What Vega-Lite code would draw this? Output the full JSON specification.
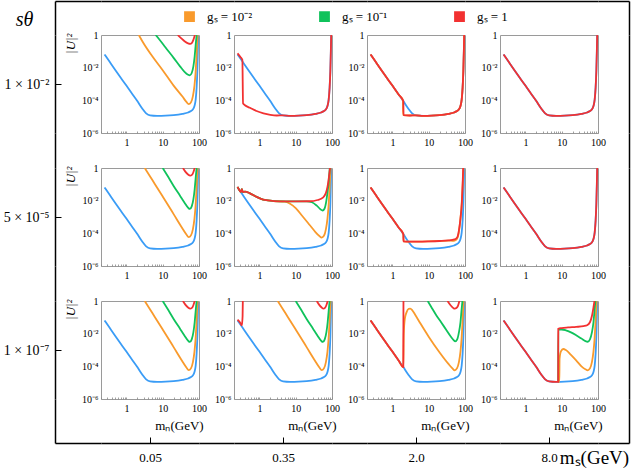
{
  "$schema": "https://vega.github.io/schema/vega-lite/v6.json",
  "background": "white",
  "padding": {"left": 3, "top": 1, "right": 3, "bottom": 3},
  "config": {
    "font": "Liberation Serif",
    "view": {"stroke": null},
    "axis": {"labelFont": "Liberation Serif", "titleFont": "Liberation Serif", "labelColor": "black", "titleColor": "black", "grid": false, "titleFontWeight": "normal"},
    "axisDiscrete": {"domainColor": "black", "domainWidth": 1.5, "labels": false, "ticks": false, "tickColor": "black", "tickWidth": 1, "labelAngle": 0},
    "axisQuantitative": {"domain": false, "tickColor": "#888888", "tickWidth": 0.8, "labelFontSize": 10, "labelFlush": false, "labelOverlap": false, "labelBound": false},
    "legend": {"direction": "horizontal", "padding": 0, "symbolType": "M-1,-1H1V1H-1Z M-0.8,-0.8H0.8V0.8H-0.8Z M-0.6,-0.6H0.6V0.6H-0.6Z M-0.4,-0.4H0.4V0.4H-0.4Z M-0.2,-0.2H0.2V0.2H-0.2Z M-0.05,-0.05H0.05V0.05H-0.05Z", "symbolSize": 81, "symbolStrokeWidth": 1.5, "labelFontSize": 13, "labelOffset": 11, "columnPadding": 63, "gridAlign": "all", "labelFont": "Liberation Serif", "labelColor": "black"},
    "line": {"strokeWidth": 1.8},
    "concat": {"spacing": 0}
  },
  "data": {"values": [{"k": "a"}]},
  "datasets": {
    "curves": [
      {"r":1,"c":1,"g":"b","m":0.25,"u":0.065},{"r":1,"c":1,"g":"b","m":0.35,"u":0.022},{"r":1,"c":1,"g":"b","m":0.5,"u":0.007},{"r":1,"c":1,"g":"b","m":0.7,"u":0.0024},{"r":1,"c":1,"g":"b","m":1,"u":0.0008},{"r":1,"c":1,"g":"b","m":1.5,"u":2.2e-4},{"r":1,"c":1,"g":"b","m":2,"u":9e-5},{"r":1,"c":1,"g":"b","m":2.7,"u":3.3e-5},{"r":1,"c":1,"g":"b","m":3.5,"u":1.6e-5},{"r":1,"c":1,"g":"b","m":4.5,"u":1.2e-5},{"r":1,"c":1,"g":"b","m":7,"u":1.12e-5},{"r":1,"c":1,"g":"b","m":12,"u":1.15e-5},{"r":1,"c":1,"g":"b","m":20,"u":1.25e-5},{"r":1,"c":1,"g":"b","m":35,"u":1.5e-5},{"r":1,"c":1,"g":"b","m":50,"u":1.8e-5},{"r":1,"c":1,"g":"b","m":60,"u":2.2e-5},{"r":1,"c":1,"g":"b","m":68,"u":2.8e-5},{"r":1,"c":1,"g":"b","m":75,"u":4.5e-5},{"r":1,"c":1,"g":"b","m":81,"u":1.1e-4},{"r":1,"c":1,"g":"b","m":86,"u":6e-4},{"r":1,"c":1,"g":"b","m":90,"u":6e-3},{"r":1,"c":1,"g":"b","m":93,"u":0.1},{"r":1,"c":1,"g":"b","m":95,"u":1},
      {"r":1,"c":1,"g":"o","m":2.2,"u":1},{"r":1,"c":1,"g":"o","m":3,"u":0.3},{"r":1,"c":1,"g":"o","m":5,"u":0.055},{"r":1,"c":1,"g":"o","m":10,"u":0.007},{"r":1,"c":1,"g":"o","m":20,"u":0.0008},{"r":1,"c":1,"g":"o","m":35,"u":1.7e-4},{"r":1,"c":1,"g":"o","m":45,"u":8e-5},{"r":1,"c":1,"g":"o","m":52,"u":5.8e-5},{"r":1,"c":1,"g":"o","m":60,"u":7.5e-5},{"r":1,"c":1,"g":"o","m":68,"u":1.8e-4},{"r":1,"c":1,"g":"o","m":75,"u":8e-4},{"r":1,"c":1,"g":"o","m":80,"u":0.004},{"r":1,"c":1,"g":"o","m":85,"u":0.04},{"r":1,"c":1,"g":"o","m":89,"u":0.3},{"r":1,"c":1,"g":"o","m":92,"u":1},
      {"r":1,"c":1,"g":"g","m":6.4,"u":1},{"r":1,"c":1,"g":"g","m":8,"u":0.55},{"r":1,"c":1,"g":"g","m":12,"u":0.17},{"r":1,"c":1,"g":"g","m":20,"u":0.04},{"r":1,"c":1,"g":"g","m":30,"u":0.012},{"r":1,"c":1,"g":"g","m":40,"u":0.0055},{"r":1,"c":1,"g":"g","m":50,"u":0.0037},{"r":1,"c":1,"g":"g","m":56,"u":0.0034},{"r":1,"c":1,"g":"g","m":63,"u":0.0047},{"r":1,"c":1,"g":"g","m":70,"u":0.012},{"r":1,"c":1,"g":"g","m":76,"u":0.05},{"r":1,"c":1,"g":"g","m":81,"u":0.25},{"r":1,"c":1,"g":"g","m":86,"u":1},
      {"r":1,"c":1,"g":"r","m":26,"u":1},{"r":1,"c":1,"g":"r","m":32,"u":0.65},{"r":1,"c":1,"g":"r","m":40,"u":0.42},{"r":1,"c":1,"g":"r","m":50,"u":0.31},{"r":1,"c":1,"g":"r","m":57,"u":0.29},{"r":1,"c":1,"g":"r","m":64,"u":0.33},{"r":1,"c":1,"g":"r","m":70,"u":0.5},{"r":1,"c":1,"g":"r","m":77,"u":1},

      {"r":1,"c":2,"g":"b","m":0.25,"u":0.065},{"r":1,"c":2,"g":"b","m":0.35,"u":0.022},{"r":1,"c":2,"g":"b","m":0.5,"u":0.007},{"r":1,"c":2,"g":"b","m":0.7,"u":0.0024},{"r":1,"c":2,"g":"b","m":1,"u":0.0008},{"r":1,"c":2,"g":"b","m":1.5,"u":2.2e-4},{"r":1,"c":2,"g":"b","m":2,"u":9e-5},{"r":1,"c":2,"g":"b","m":2.7,"u":3.3e-5},{"r":1,"c":2,"g":"b","m":3.5,"u":1.6e-5},{"r":1,"c":2,"g":"b","m":4.5,"u":1.2e-5},{"r":1,"c":2,"g":"b","m":7,"u":1.12e-5},{"r":1,"c":2,"g":"b","m":12,"u":1.15e-5},{"r":1,"c":2,"g":"b","m":20,"u":1.25e-5},{"r":1,"c":2,"g":"b","m":35,"u":1.5e-5},{"r":1,"c":2,"g":"b","m":50,"u":1.8e-5},{"r":1,"c":2,"g":"b","m":60,"u":2.2e-5},{"r":1,"c":2,"g":"b","m":68,"u":2.8e-5},{"r":1,"c":2,"g":"b","m":75,"u":4.5e-5},{"r":1,"c":2,"g":"b","m":81,"u":1.1e-4},{"r":1,"c":2,"g":"b","m":86,"u":6e-4},{"r":1,"c":2,"g":"b","m":90,"u":6e-3},{"r":1,"c":2,"g":"b","m":93,"u":0.1},{"r":1,"c":2,"g":"b","m":95,"u":1},
      {"r":1,"c":2,"g":"r","m":0.25,"u":0.075},{"r":1,"c":2,"g":"r","m":0.3,"u":0.045},{"r":1,"c":2,"g":"r","m":0.34,"u":0.03},{"r":1,"c":2,"g":"r","m":0.355,"u":6.5e-5},{"r":1,"c":2,"g":"r","m":0.4,"u":5e-5},{"r":1,"c":2,"g":"r","m":0.55,"u":3.5e-5},{"r":1,"c":2,"g":"r","m":0.8,"u":2.3e-5},{"r":1,"c":2,"g":"r","m":1.3,"u":1.6e-5},{"r":1,"c":2,"g":"r","m":2,"u":1.3e-5},{"r":1,"c":2,"g":"r","m":3,"u":1.18e-5},{"r":1,"c":2,"g":"r","m":4.5,"u":1.2e-5},{"r":1,"c":2,"g":"r","m":7,"u":1.12e-5},{"r":1,"c":2,"g":"r","m":12,"u":1.15e-5},{"r":1,"c":2,"g":"r","m":20,"u":1.25e-5},{"r":1,"c":2,"g":"r","m":35,"u":1.5e-5},{"r":1,"c":2,"g":"r","m":50,"u":1.8e-5},{"r":1,"c":2,"g":"r","m":60,"u":2.2e-5},{"r":1,"c":2,"g":"r","m":68,"u":2.8e-5},{"r":1,"c":2,"g":"r","m":75,"u":4.5e-5},{"r":1,"c":2,"g":"r","m":81,"u":1.1e-4},{"r":1,"c":2,"g":"r","m":86,"u":6e-4},{"r":1,"c":2,"g":"r","m":90,"u":6e-3},{"r":1,"c":2,"g":"r","m":93,"u":0.1},{"r":1,"c":2,"g":"r","m":95,"u":1},

      {"r":1,"c":3,"g":"b","m":0.25,"u":0.065},{"r":1,"c":3,"g":"b","m":0.35,"u":0.022},{"r":1,"c":3,"g":"b","m":0.5,"u":0.007},{"r":1,"c":3,"g":"b","m":0.7,"u":0.0024},{"r":1,"c":3,"g":"b","m":1,"u":0.0008},{"r":1,"c":3,"g":"b","m":1.5,"u":2.2e-4},{"r":1,"c":3,"g":"b","m":2,"u":9e-5},{"r":1,"c":3,"g":"b","m":2.7,"u":3.3e-5},{"r":1,"c":3,"g":"b","m":3.5,"u":1.6e-5},{"r":1,"c":3,"g":"b","m":4.5,"u":1.2e-5},{"r":1,"c":3,"g":"b","m":7,"u":1.12e-5},{"r":1,"c":3,"g":"b","m":12,"u":1.15e-5},{"r":1,"c":3,"g":"b","m":20,"u":1.25e-5},{"r":1,"c":3,"g":"b","m":35,"u":1.5e-5},{"r":1,"c":3,"g":"b","m":50,"u":1.8e-5},{"r":1,"c":3,"g":"b","m":60,"u":2.2e-5},{"r":1,"c":3,"g":"b","m":68,"u":2.8e-5},{"r":1,"c":3,"g":"b","m":75,"u":4.5e-5},{"r":1,"c":3,"g":"b","m":81,"u":1.1e-4},{"r":1,"c":3,"g":"b","m":86,"u":6e-4},{"r":1,"c":3,"g":"b","m":90,"u":6e-3},{"r":1,"c":3,"g":"b","m":93,"u":0.1},{"r":1,"c":3,"g":"b","m":95,"u":1},
      {"r":1,"c":3,"g":"o","m":0.25,"u":0.065},{"r":1,"c":3,"g":"o","m":0.35,"u":0.022},{"r":1,"c":3,"g":"o","m":0.5,"u":0.007},{"r":1,"c":3,"g":"o","m":0.7,"u":0.0024},{"r":1,"c":3,"g":"o","m":1,"u":0.0008},{"r":1,"c":3,"g":"o","m":1.5,"u":2.2e-4},{"r":1,"c":3,"g":"o","m":1.95,"u":1e-4},{"r":1,"c":3,"g":"o","m":1.98,"u":1.25e-5},{"r":1,"c":3,"g":"o","m":3,"u":1.18e-5},{"r":1,"c":3,"g":"o","m":4.5,"u":1.2e-5},{"r":1,"c":3,"g":"o","m":7,"u":1.12e-5},{"r":1,"c":3,"g":"o","m":12,"u":1.15e-5},{"r":1,"c":3,"g":"o","m":20,"u":1.25e-5},{"r":1,"c":3,"g":"o","m":35,"u":1.5e-5},{"r":1,"c":3,"g":"o","m":50,"u":1.8e-5},{"r":1,"c":3,"g":"o","m":60,"u":2.2e-5},{"r":1,"c":3,"g":"o","m":68,"u":2.8e-5},{"r":1,"c":3,"g":"o","m":75,"u":4.5e-5},{"r":1,"c":3,"g":"o","m":81,"u":1.1e-4},{"r":1,"c":3,"g":"o","m":86,"u":6e-4},{"r":1,"c":3,"g":"o","m":90,"u":6e-3},{"r":1,"c":3,"g":"o","m":93,"u":0.1},{"r":1,"c":3,"g":"o","m":95,"u":1},
      {"r":1,"c":3,"g":"r","m":0.25,"u":0.065},{"r":1,"c":3,"g":"r","m":0.35,"u":0.022},{"r":1,"c":3,"g":"r","m":0.5,"u":0.007},{"r":1,"c":3,"g":"r","m":0.7,"u":0.0024},{"r":1,"c":3,"g":"r","m":1,"u":0.0008},{"r":1,"c":3,"g":"r","m":1.5,"u":2.2e-4},{"r":1,"c":3,"g":"r","m":2,"u":9e-5},{"r":1,"c":3,"g":"r","m":2.03,"u":1.25e-5},{"r":1,"c":3,"g":"r","m":3,"u":1.18e-5},{"r":1,"c":3,"g":"r","m":4.5,"u":1.2e-5},{"r":1,"c":3,"g":"r","m":7,"u":1.12e-5},{"r":1,"c":3,"g":"r","m":12,"u":1.15e-5},{"r":1,"c":3,"g":"r","m":20,"u":1.25e-5},{"r":1,"c":3,"g":"r","m":35,"u":1.5e-5},{"r":1,"c":3,"g":"r","m":50,"u":1.8e-5},{"r":1,"c":3,"g":"r","m":60,"u":2.2e-5},{"r":1,"c":3,"g":"r","m":68,"u":2.8e-5},{"r":1,"c":3,"g":"r","m":75,"u":4.5e-5},{"r":1,"c":3,"g":"r","m":81,"u":1.1e-4},{"r":1,"c":3,"g":"r","m":86,"u":6e-4},{"r":1,"c":3,"g":"r","m":90,"u":6e-3},{"r":1,"c":3,"g":"r","m":93,"u":0.1},{"r":1,"c":3,"g":"r","m":95,"u":1},

      {"r":1,"c":4,"g":"b","m":0.25,"u":0.065},{"r":1,"c":4,"g":"b","m":0.35,"u":0.022},{"r":1,"c":4,"g":"b","m":0.5,"u":0.007},{"r":1,"c":4,"g":"b","m":0.7,"u":0.0024},{"r":1,"c":4,"g":"b","m":1,"u":0.0008},{"r":1,"c":4,"g":"b","m":1.5,"u":2.2e-4},{"r":1,"c":4,"g":"b","m":2,"u":9e-5},{"r":1,"c":4,"g":"b","m":2.7,"u":3.3e-5},{"r":1,"c":4,"g":"b","m":3.5,"u":1.6e-5},{"r":1,"c":4,"g":"b","m":4.5,"u":1.2e-5},{"r":1,"c":4,"g":"b","m":7,"u":1.12e-5},{"r":1,"c":4,"g":"b","m":12,"u":1.15e-5},{"r":1,"c":4,"g":"b","m":20,"u":1.25e-5},{"r":1,"c":4,"g":"b","m":35,"u":1.5e-5},{"r":1,"c":4,"g":"b","m":50,"u":1.8e-5},{"r":1,"c":4,"g":"b","m":60,"u":2.2e-5},{"r":1,"c":4,"g":"b","m":68,"u":2.8e-5},{"r":1,"c":4,"g":"b","m":75,"u":4.5e-5},{"r":1,"c":4,"g":"b","m":81,"u":1.1e-4},{"r":1,"c":4,"g":"b","m":86,"u":6e-4},{"r":1,"c":4,"g":"b","m":90,"u":6e-3},{"r":1,"c":4,"g":"b","m":93,"u":0.1},{"r":1,"c":4,"g":"b","m":95,"u":1},
      {"r":1,"c":4,"g":"r","m":0.25,"u":0.065},{"r":1,"c":4,"g":"r","m":0.35,"u":0.022},{"r":1,"c":4,"g":"r","m":0.5,"u":0.007},{"r":1,"c":4,"g":"r","m":0.7,"u":0.0024},{"r":1,"c":4,"g":"r","m":1,"u":0.0008},{"r":1,"c":4,"g":"r","m":1.5,"u":2.2e-4},{"r":1,"c":4,"g":"r","m":2,"u":9e-5},{"r":1,"c":4,"g":"r","m":2.7,"u":3.3e-5},{"r":1,"c":4,"g":"r","m":3.5,"u":1.6e-5},{"r":1,"c":4,"g":"r","m":4.5,"u":1.2e-5},{"r":1,"c":4,"g":"r","m":7,"u":1.12e-5},{"r":1,"c":4,"g":"r","m":12,"u":1.15e-5},{"r":1,"c":4,"g":"r","m":20,"u":1.25e-5},{"r":1,"c":4,"g":"r","m":35,"u":1.5e-5},{"r":1,"c":4,"g":"r","m":50,"u":1.8e-5},{"r":1,"c":4,"g":"r","m":60,"u":2.2e-5},{"r":1,"c":4,"g":"r","m":68,"u":2.8e-5},{"r":1,"c":4,"g":"r","m":75,"u":4.5e-5},{"r":1,"c":4,"g":"r","m":81,"u":1.1e-4},{"r":1,"c":4,"g":"r","m":86,"u":6e-4},{"r":1,"c":4,"g":"r","m":90,"u":6e-3},{"r":1,"c":4,"g":"r","m":93,"u":0.1},{"r":1,"c":4,"g":"r","m":95,"u":1},

      {"r":2,"c":1,"g":"b","m":0.25,"u":0.065},{"r":2,"c":1,"g":"b","m":0.35,"u":0.022},{"r":2,"c":1,"g":"b","m":0.5,"u":0.007},{"r":2,"c":1,"g":"b","m":0.7,"u":0.0024},{"r":2,"c":1,"g":"b","m":1,"u":0.0008},{"r":2,"c":1,"g":"b","m":1.5,"u":2.2e-4},{"r":2,"c":1,"g":"b","m":2,"u":9e-5},{"r":2,"c":1,"g":"b","m":2.7,"u":3.3e-5},{"r":2,"c":1,"g":"b","m":3.5,"u":1.6e-5},{"r":2,"c":1,"g":"b","m":4.5,"u":1.2e-5},{"r":2,"c":1,"g":"b","m":7,"u":1.12e-5},{"r":2,"c":1,"g":"b","m":12,"u":1.15e-5},{"r":2,"c":1,"g":"b","m":20,"u":1.25e-5},{"r":2,"c":1,"g":"b","m":35,"u":1.5e-5},{"r":2,"c":1,"g":"b","m":50,"u":1.8e-5},{"r":2,"c":1,"g":"b","m":60,"u":2.2e-5},{"r":2,"c":1,"g":"b","m":68,"u":2.8e-5},{"r":2,"c":1,"g":"b","m":75,"u":4.5e-5},{"r":2,"c":1,"g":"b","m":81,"u":1.1e-4},{"r":2,"c":1,"g":"b","m":86,"u":6e-4},{"r":2,"c":1,"g":"b","m":90,"u":6e-3},{"r":2,"c":1,"g":"b","m":93,"u":0.1},{"r":2,"c":1,"g":"b","m":95,"u":1},
      {"r":2,"c":1,"g":"o","m":3.2,"u":1},{"r":2,"c":1,"g":"o","m":4.5,"u":0.3},{"r":2,"c":1,"g":"o","m":6,"u":0.11},{"r":2,"c":1,"g":"o","m":10,"u":0.018},{"r":2,"c":1,"g":"o","m":20,"u":0.0015},{"r":2,"c":1,"g":"o","m":35,"u":2e-4},{"r":2,"c":1,"g":"o","m":45,"u":8.5e-5},{"r":2,"c":1,"g":"o","m":52,"u":5.8e-5},{"r":2,"c":1,"g":"o","m":60,"u":7.5e-5},{"r":2,"c":1,"g":"o","m":68,"u":1.8e-4},{"r":2,"c":1,"g":"o","m":75,"u":8e-4},{"r":2,"c":1,"g":"o","m":80,"u":0.004},{"r":2,"c":1,"g":"o","m":85,"u":0.04},{"r":2,"c":1,"g":"o","m":89,"u":0.3},{"r":2,"c":1,"g":"o","m":92,"u":1},
      {"r":2,"c":1,"g":"g","m":10,"u":1},{"r":2,"c":1,"g":"g","m":14,"u":0.3},{"r":2,"c":1,"g":"g","m":20,"u":0.08},{"r":2,"c":1,"g":"g","m":30,"u":0.02},{"r":2,"c":1,"g":"g","m":40,"u":0.0075},{"r":2,"c":1,"g":"g","m":50,"u":0.0037},{"r":2,"c":1,"g":"g","m":56,"u":0.0031},{"r":2,"c":1,"g":"g","m":63,"u":0.0045},{"r":2,"c":1,"g":"g","m":70,"u":0.012},{"r":2,"c":1,"g":"g","m":76,"u":0.05},{"r":2,"c":1,"g":"g","m":81,"u":0.25},{"r":2,"c":1,"g":"g","m":86,"u":1},
      {"r":2,"c":1,"g":"r","m":36,"u":1},{"r":2,"c":1,"g":"r","m":42,"u":0.6},{"r":2,"c":1,"g":"r","m":50,"u":0.4},{"r":2,"c":1,"g":"r","m":57,"u":0.34},{"r":2,"c":1,"g":"r","m":64,"u":0.38},{"r":2,"c":1,"g":"r","m":70,"u":0.55},{"r":2,"c":1,"g":"r","m":76,"u":1},

      {"r":2,"c":2,"g":"b","m":0.25,"u":0.065},{"r":2,"c":2,"g":"b","m":0.35,"u":0.022},{"r":2,"c":2,"g":"b","m":0.5,"u":0.007},{"r":2,"c":2,"g":"b","m":0.7,"u":0.0024},{"r":2,"c":2,"g":"b","m":1,"u":0.0008},{"r":2,"c":2,"g":"b","m":1.5,"u":2.2e-4},{"r":2,"c":2,"g":"b","m":2,"u":9e-5},{"r":2,"c":2,"g":"b","m":2.7,"u":3.3e-5},{"r":2,"c":2,"g":"b","m":3.5,"u":1.6e-5},{"r":2,"c":2,"g":"b","m":4.5,"u":1.2e-5},{"r":2,"c":2,"g":"b","m":7,"u":1.12e-5},{"r":2,"c":2,"g":"b","m":12,"u":1.15e-5},{"r":2,"c":2,"g":"b","m":20,"u":1.25e-5},{"r":2,"c":2,"g":"b","m":35,"u":1.5e-5},{"r":2,"c":2,"g":"b","m":50,"u":1.8e-5},{"r":2,"c":2,"g":"b","m":60,"u":2.2e-5},{"r":2,"c":2,"g":"b","m":68,"u":2.8e-5},{"r":2,"c":2,"g":"b","m":75,"u":4.5e-5},{"r":2,"c":2,"g":"b","m":81,"u":1.1e-4},{"r":2,"c":2,"g":"b","m":86,"u":6e-4},{"r":2,"c":2,"g":"b","m":90,"u":6e-3},{"r":2,"c":2,"g":"b","m":93,"u":0.1},{"r":2,"c":2,"g":"b","m":95,"u":1},
      {"r":2,"c":2,"g":"o","m":0.25,"u":0.07},{"r":2,"c":2,"g":"o","m":0.29,"u":0.04},{"r":2,"c":2,"g":"o","m":0.31,"u":0.034},{"r":2,"c":2,"g":"o","m":0.33,"u":0.05},{"r":2,"c":2,"g":"o","m":0.35,"u":0.034},{"r":2,"c":2,"g":"o","m":0.4,"u":0.036},{"r":2,"c":2,"g":"o","m":0.55,"u":0.028},{"r":2,"c":2,"g":"o","m":0.8,"u":0.018},{"r":2,"c":2,"g":"o","m":1.4,"u":0.011},{"r":2,"c":2,"g":"o","m":2.5,"u":0.0095},{"r":2,"c":2,"g":"o","m":5,"u":0.0088},{"r":2,"c":2,"g":"o","m":7,"u":0.0065},{"r":2,"c":2,"g":"o","m":10,"u":0.0035},{"r":2,"c":2,"g":"o","m":15,"u":0.0012},{"r":2,"c":2,"g":"o","m":25,"u":3e-4},{"r":2,"c":2,"g":"o","m":35,"u":1.2e-4},{"r":2,"c":2,"g":"o","m":45,"u":6.8e-5},{"r":2,"c":2,"g":"o","m":52,"u":5.5e-5},{"r":2,"c":2,"g":"o","m":60,"u":7e-5},{"r":2,"c":2,"g":"o","m":68,"u":1.8e-4},{"r":2,"c":2,"g":"o","m":75,"u":8e-4},{"r":2,"c":2,"g":"o","m":80,"u":0.004},{"r":2,"c":2,"g":"o","m":85,"u":0.04},{"r":2,"c":2,"g":"o","m":89,"u":0.3},{"r":2,"c":2,"g":"o","m":92,"u":1},
      {"r":2,"c":2,"g":"g","m":0.25,"u":0.07},{"r":2,"c":2,"g":"g","m":0.29,"u":0.04},{"r":2,"c":2,"g":"g","m":0.31,"u":0.034},{"r":2,"c":2,"g":"g","m":0.33,"u":0.05},{"r":2,"c":2,"g":"g","m":0.35,"u":0.034},{"r":2,"c":2,"g":"g","m":0.4,"u":0.036},{"r":2,"c":2,"g":"g","m":0.55,"u":0.028},{"r":2,"c":2,"g":"g","m":0.8,"u":0.018},{"r":2,"c":2,"g":"g","m":1.4,"u":0.011},{"r":2,"c":2,"g":"g","m":2.5,"u":0.0095},{"r":2,"c":2,"g":"g","m":5,"u":0.009},{"r":2,"c":2,"g":"g","m":10,"u":0.009},{"r":2,"c":2,"g":"g","m":20,"u":0.0091},{"r":2,"c":2,"g":"g","m":28,"u":0.008},{"r":2,"c":2,"g":"g","m":38,"u":0.005},{"r":2,"c":2,"g":"g","m":48,"u":0.003},{"r":2,"c":2,"g":"g","m":55,"u":0.0025},{"r":2,"c":2,"g":"g","m":62,"u":0.0032},{"r":2,"c":2,"g":"g","m":70,"u":0.01},{"r":2,"c":2,"g":"g","m":76,"u":0.04},{"r":2,"c":2,"g":"g","m":80,"u":0.1},{"r":2,"c":2,"g":"g","m":84,"u":0.4},{"r":2,"c":2,"g":"g","m":87,"u":1},
      {"r":2,"c":2,"g":"r","m":0.25,"u":0.07},{"r":2,"c":2,"g":"r","m":0.29,"u":0.04},{"r":2,"c":2,"g":"r","m":0.31,"u":0.034},{"r":2,"c":2,"g":"r","m":0.33,"u":0.05},{"r":2,"c":2,"g":"r","m":0.35,"u":0.034},{"r":2,"c":2,"g":"r","m":0.4,"u":0.036},{"r":2,"c":2,"g":"r","m":0.55,"u":0.028},{"r":2,"c":2,"g":"r","m":0.8,"u":0.018},{"r":2,"c":2,"g":"r","m":1.4,"u":0.011},{"r":2,"c":2,"g":"r","m":2.5,"u":0.0095},{"r":2,"c":2,"g":"r","m":5,"u":0.009},{"r":2,"c":2,"g":"r","m":10,"u":0.009},{"r":2,"c":2,"g":"r","m":25,"u":0.0092},{"r":2,"c":2,"g":"r","m":40,"u":0.011},{"r":2,"c":2,"g":"r","m":50,"u":0.013},{"r":2,"c":2,"g":"r","m":60,"u":0.018},{"r":2,"c":2,"g":"r","m":68,"u":0.03},{"r":2,"c":2,"g":"r","m":75,"u":0.07},{"r":2,"c":2,"g":"r","m":80,"u":0.17},{"r":2,"c":2,"g":"r","m":85,"u":0.5},{"r":2,"c":2,"g":"r","m":88,"u":1},

      {"r":2,"c":3,"g":"b","m":0.25,"u":0.065},{"r":2,"c":3,"g":"b","m":0.35,"u":0.022},{"r":2,"c":3,"g":"b","m":0.5,"u":0.007},{"r":2,"c":3,"g":"b","m":0.7,"u":0.0024},{"r":2,"c":3,"g":"b","m":1,"u":0.0008},{"r":2,"c":3,"g":"b","m":1.5,"u":2.2e-4},{"r":2,"c":3,"g":"b","m":2,"u":9e-5},{"r":2,"c":3,"g":"b","m":2.7,"u":3.3e-5},{"r":2,"c":3,"g":"b","m":3.5,"u":1.6e-5},{"r":2,"c":3,"g":"b","m":4.5,"u":1.2e-5},{"r":2,"c":3,"g":"b","m":7,"u":1.12e-5},{"r":2,"c":3,"g":"b","m":12,"u":1.15e-5},{"r":2,"c":3,"g":"b","m":20,"u":1.25e-5},{"r":2,"c":3,"g":"b","m":35,"u":1.5e-5},{"r":2,"c":3,"g":"b","m":50,"u":1.8e-5},{"r":2,"c":3,"g":"b","m":60,"u":2.2e-5},{"r":2,"c":3,"g":"b","m":68,"u":2.8e-5},{"r":2,"c":3,"g":"b","m":75,"u":4.5e-5},{"r":2,"c":3,"g":"b","m":81,"u":1.1e-4},{"r":2,"c":3,"g":"b","m":86,"u":6e-4},{"r":2,"c":3,"g":"b","m":90,"u":6e-3},{"r":2,"c":3,"g":"b","m":93,"u":0.1},{"r":2,"c":3,"g":"b","m":95,"u":1},
      {"r":2,"c":3,"g":"o","m":0.25,"u":0.065},{"r":2,"c":3,"g":"o","m":0.35,"u":0.022},{"r":2,"c":3,"g":"o","m":0.5,"u":0.007},{"r":2,"c":3,"g":"o","m":0.7,"u":0.0024},{"r":2,"c":3,"g":"o","m":1,"u":0.0008},{"r":2,"c":3,"g":"o","m":1.5,"u":2.2e-4},{"r":2,"c":3,"g":"o","m":2,"u":9e-5},{"r":2,"c":3,"g":"o","m":2.03,"u":3.2e-5},{"r":2,"c":3,"g":"o","m":3,"u":3.1e-5},{"r":2,"c":3,"g":"o","m":5,"u":3.1e-5},{"r":2,"c":3,"g":"o","m":10,"u":3.2e-5},{"r":2,"c":3,"g":"o","m":20,"u":3.4e-5},{"r":2,"c":3,"g":"o","m":35,"u":3.6e-5},{"r":2,"c":3,"g":"o","m":45,"u":3.5e-5},{"r":2,"c":3,"g":"o","m":52,"u":3.6e-5},{"r":2,"c":3,"g":"o","m":60,"u":4.5e-5},{"r":2,"c":3,"g":"o","m":67,"u":1e-4},{"r":2,"c":3,"g":"o","m":74,"u":6e-4},{"r":2,"c":3,"g":"o","m":81,"u":0.006},{"r":2,"c":3,"g":"o","m":87,"u":0.12},{"r":2,"c":3,"g":"o","m":91,"u":1},
      {"r":2,"c":3,"g":"r","m":0.25,"u":0.065},{"r":2,"c":3,"g":"r","m":0.35,"u":0.022},{"r":2,"c":3,"g":"r","m":0.5,"u":0.007},{"r":2,"c":3,"g":"r","m":0.7,"u":0.0024},{"r":2,"c":3,"g":"r","m":1,"u":0.0008},{"r":2,"c":3,"g":"r","m":1.5,"u":2.2e-4},{"r":2,"c":3,"g":"r","m":2,"u":9e-5},{"r":2,"c":3,"g":"r","m":2.03,"u":3.2e-5},{"r":2,"c":3,"g":"r","m":3,"u":3.1e-5},{"r":2,"c":3,"g":"r","m":5,"u":3.1e-5},{"r":2,"c":3,"g":"r","m":10,"u":3.2e-5},{"r":2,"c":3,"g":"r","m":20,"u":3.4e-5},{"r":2,"c":3,"g":"r","m":35,"u":3.7e-5},{"r":2,"c":3,"g":"r","m":45,"u":4e-5},{"r":2,"c":3,"g":"r","m":55,"u":4.5e-5},{"r":2,"c":3,"g":"r","m":62,"u":6e-5},{"r":2,"c":3,"g":"r","m":68,"u":1.5e-4},{"r":2,"c":3,"g":"r","m":75,"u":8e-4},{"r":2,"c":3,"g":"r","m":82,"u":0.008},{"r":2,"c":3,"g":"r","m":87,"u":0.2},{"r":2,"c":3,"g":"r","m":89,"u":1},

      {"r":2,"c":4,"g":"b","m":0.25,"u":0.065},{"r":2,"c":4,"g":"b","m":0.35,"u":0.022},{"r":2,"c":4,"g":"b","m":0.5,"u":0.007},{"r":2,"c":4,"g":"b","m":0.7,"u":0.0024},{"r":2,"c":4,"g":"b","m":1,"u":0.0008},{"r":2,"c":4,"g":"b","m":1.5,"u":2.2e-4},{"r":2,"c":4,"g":"b","m":2,"u":9e-5},{"r":2,"c":4,"g":"b","m":2.7,"u":3.3e-5},{"r":2,"c":4,"g":"b","m":3.5,"u":1.6e-5},{"r":2,"c":4,"g":"b","m":4.5,"u":1.2e-5},{"r":2,"c":4,"g":"b","m":7,"u":1.12e-5},{"r":2,"c":4,"g":"b","m":12,"u":1.15e-5},{"r":2,"c":4,"g":"b","m":20,"u":1.25e-5},{"r":2,"c":4,"g":"b","m":35,"u":1.5e-5},{"r":2,"c":4,"g":"b","m":50,"u":1.8e-5},{"r":2,"c":4,"g":"b","m":60,"u":2.2e-5},{"r":2,"c":4,"g":"b","m":68,"u":2.8e-5},{"r":2,"c":4,"g":"b","m":75,"u":4.5e-5},{"r":2,"c":4,"g":"b","m":81,"u":1.1e-4},{"r":2,"c":4,"g":"b","m":86,"u":6e-4},{"r":2,"c":4,"g":"b","m":90,"u":6e-3},{"r":2,"c":4,"g":"b","m":93,"u":0.1},{"r":2,"c":4,"g":"b","m":95,"u":1},
      {"r":2,"c":4,"g":"r","m":0.25,"u":0.065},{"r":2,"c":4,"g":"r","m":0.35,"u":0.022},{"r":2,"c":4,"g":"r","m":0.5,"u":0.007},{"r":2,"c":4,"g":"r","m":0.7,"u":0.0024},{"r":2,"c":4,"g":"r","m":1,"u":0.0008},{"r":2,"c":4,"g":"r","m":1.5,"u":2.2e-4},{"r":2,"c":4,"g":"r","m":2,"u":9e-5},{"r":2,"c":4,"g":"r","m":2.7,"u":3.3e-5},{"r":2,"c":4,"g":"r","m":3.5,"u":1.6e-5},{"r":2,"c":4,"g":"r","m":4.5,"u":1.2e-5},{"r":2,"c":4,"g":"r","m":7,"u":1.12e-5},{"r":2,"c":4,"g":"r","m":12,"u":1.15e-5},{"r":2,"c":4,"g":"r","m":20,"u":1.25e-5},{"r":2,"c":4,"g":"r","m":35,"u":1.5e-5},{"r":2,"c":4,"g":"r","m":50,"u":1.8e-5},{"r":2,"c":4,"g":"r","m":60,"u":2.2e-5},{"r":2,"c":4,"g":"r","m":68,"u":2.8e-5},{"r":2,"c":4,"g":"r","m":75,"u":4.5e-5},{"r":2,"c":4,"g":"r","m":81,"u":1.1e-4},{"r":2,"c":4,"g":"r","m":86,"u":6e-4},{"r":2,"c":4,"g":"r","m":90,"u":6e-3},{"r":2,"c":4,"g":"r","m":93,"u":0.1},{"r":2,"c":4,"g":"r","m":95,"u":1},

      {"r":3,"c":1,"g":"b","m":0.25,"u":0.065},{"r":3,"c":1,"g":"b","m":0.35,"u":0.022},{"r":3,"c":1,"g":"b","m":0.5,"u":0.007},{"r":3,"c":1,"g":"b","m":0.7,"u":0.0024},{"r":3,"c":1,"g":"b","m":1,"u":0.0008},{"r":3,"c":1,"g":"b","m":1.5,"u":2.2e-4},{"r":3,"c":1,"g":"b","m":2,"u":9e-5},{"r":3,"c":1,"g":"b","m":2.7,"u":3.3e-5},{"r":3,"c":1,"g":"b","m":3.5,"u":1.6e-5},{"r":3,"c":1,"g":"b","m":4.5,"u":1.2e-5},{"r":3,"c":1,"g":"b","m":7,"u":1.12e-5},{"r":3,"c":1,"g":"b","m":12,"u":1.15e-5},{"r":3,"c":1,"g":"b","m":20,"u":1.25e-5},{"r":3,"c":1,"g":"b","m":35,"u":1.5e-5},{"r":3,"c":1,"g":"b","m":50,"u":1.8e-5},{"r":3,"c":1,"g":"b","m":60,"u":2.2e-5},{"r":3,"c":1,"g":"b","m":68,"u":2.8e-5},{"r":3,"c":1,"g":"b","m":75,"u":4.5e-5},{"r":3,"c":1,"g":"b","m":81,"u":1.1e-4},{"r":3,"c":1,"g":"b","m":86,"u":6e-4},{"r":3,"c":1,"g":"b","m":90,"u":6e-3},{"r":3,"c":1,"g":"b","m":93,"u":0.1},{"r":3,"c":1,"g":"b","m":95,"u":1},
      {"r":3,"c":1,"g":"o","m":3.2,"u":1},{"r":3,"c":1,"g":"o","m":4.5,"u":0.3},{"r":3,"c":1,"g":"o","m":6,"u":0.11},{"r":3,"c":1,"g":"o","m":10,"u":0.018},{"r":3,"c":1,"g":"o","m":20,"u":0.0015},{"r":3,"c":1,"g":"o","m":35,"u":2e-4},{"r":3,"c":1,"g":"o","m":45,"u":8.5e-5},{"r":3,"c":1,"g":"o","m":52,"u":5.8e-5},{"r":3,"c":1,"g":"o","m":60,"u":7.5e-5},{"r":3,"c":1,"g":"o","m":68,"u":1.8e-4},{"r":3,"c":1,"g":"o","m":75,"u":8e-4},{"r":3,"c":1,"g":"o","m":80,"u":0.004},{"r":3,"c":1,"g":"o","m":85,"u":0.04},{"r":3,"c":1,"g":"o","m":89,"u":0.3},{"r":3,"c":1,"g":"o","m":92,"u":1},
      {"r":3,"c":1,"g":"g","m":10,"u":1},{"r":3,"c":1,"g":"g","m":14,"u":0.3},{"r":3,"c":1,"g":"g","m":20,"u":0.08},{"r":3,"c":1,"g":"g","m":30,"u":0.02},{"r":3,"c":1,"g":"g","m":40,"u":0.0075},{"r":3,"c":1,"g":"g","m":50,"u":0.0037},{"r":3,"c":1,"g":"g","m":56,"u":0.0031},{"r":3,"c":1,"g":"g","m":63,"u":0.0045},{"r":3,"c":1,"g":"g","m":70,"u":0.012},{"r":3,"c":1,"g":"g","m":76,"u":0.05},{"r":3,"c":1,"g":"g","m":81,"u":0.25},{"r":3,"c":1,"g":"g","m":86,"u":1},
      {"r":3,"c":1,"g":"r","m":36,"u":1},{"r":3,"c":1,"g":"r","m":42,"u":0.6},{"r":3,"c":1,"g":"r","m":50,"u":0.4},{"r":3,"c":1,"g":"r","m":57,"u":0.34},{"r":3,"c":1,"g":"r","m":64,"u":0.38},{"r":3,"c":1,"g":"r","m":70,"u":0.55},{"r":3,"c":1,"g":"r","m":76,"u":1},

      {"r":3,"c":2,"g":"b","m":0.25,"u":0.065},{"r":3,"c":2,"g":"b","m":0.35,"u":0.022},{"r":3,"c":2,"g":"b","m":0.5,"u":0.007},{"r":3,"c":2,"g":"b","m":0.7,"u":0.0024},{"r":3,"c":2,"g":"b","m":1,"u":0.0008},{"r":3,"c":2,"g":"b","m":1.5,"u":2.2e-4},{"r":3,"c":2,"g":"b","m":2,"u":9e-5},{"r":3,"c":2,"g":"b","m":2.7,"u":3.3e-5},{"r":3,"c":2,"g":"b","m":3.5,"u":1.6e-5},{"r":3,"c":2,"g":"b","m":4.5,"u":1.2e-5},{"r":3,"c":2,"g":"b","m":7,"u":1.12e-5},{"r":3,"c":2,"g":"b","m":12,"u":1.15e-5},{"r":3,"c":2,"g":"b","m":20,"u":1.25e-5},{"r":3,"c":2,"g":"b","m":35,"u":1.5e-5},{"r":3,"c":2,"g":"b","m":50,"u":1.8e-5},{"r":3,"c":2,"g":"b","m":60,"u":2.2e-5},{"r":3,"c":2,"g":"b","m":68,"u":2.8e-5},{"r":3,"c":2,"g":"b","m":75,"u":4.5e-5},{"r":3,"c":2,"g":"b","m":81,"u":1.1e-4},{"r":3,"c":2,"g":"b","m":86,"u":6e-4},{"r":3,"c":2,"g":"b","m":90,"u":6e-3},{"r":3,"c":2,"g":"b","m":93,"u":0.1},{"r":3,"c":2,"g":"b","m":95,"u":1},
      {"r":3,"c":2,"g":"o","m":3.2,"u":1},{"r":3,"c":2,"g":"o","m":4.5,"u":0.3},{"r":3,"c":2,"g":"o","m":6,"u":0.11},{"r":3,"c":2,"g":"o","m":10,"u":0.018},{"r":3,"c":2,"g":"o","m":20,"u":0.0015},{"r":3,"c":2,"g":"o","m":35,"u":2e-4},{"r":3,"c":2,"g":"o","m":45,"u":8.5e-5},{"r":3,"c":2,"g":"o","m":52,"u":5.8e-5},{"r":3,"c":2,"g":"o","m":60,"u":7.5e-5},{"r":3,"c":2,"g":"o","m":68,"u":1.8e-4},{"r":3,"c":2,"g":"o","m":75,"u":8e-4},{"r":3,"c":2,"g":"o","m":80,"u":0.004},{"r":3,"c":2,"g":"o","m":85,"u":0.04},{"r":3,"c":2,"g":"o","m":89,"u":0.3},{"r":3,"c":2,"g":"o","m":92,"u":1},
      {"r":3,"c":2,"g":"g","m":10,"u":1},{"r":3,"c":2,"g":"g","m":14,"u":0.3},{"r":3,"c":2,"g":"g","m":20,"u":0.08},{"r":3,"c":2,"g":"g","m":30,"u":0.02},{"r":3,"c":2,"g":"g","m":40,"u":0.0075},{"r":3,"c":2,"g":"g","m":50,"u":0.0037},{"r":3,"c":2,"g":"g","m":56,"u":0.0031},{"r":3,"c":2,"g":"g","m":63,"u":0.0045},{"r":3,"c":2,"g":"g","m":70,"u":0.012},{"r":3,"c":2,"g":"g","m":76,"u":0.05},{"r":3,"c":2,"g":"g","m":81,"u":0.25},{"r":3,"c":2,"g":"g","m":86,"u":1},
      {"r":3,"c":2,"g":"r","s":1,"m":0.25,"u":0.072},{"r":3,"c":2,"g":"r","s":1,"m":0.3,"u":0.045},{"r":3,"c":2,"g":"r","s":1,"m":0.33,"u":0.032},{"r":3,"c":2,"g":"r","s":1,"m":0.345,"u":0.12},{"r":3,"c":2,"g":"r","s":1,"m":0.35,"u":1},
      {"r":3,"c":2,"g":"r","s":2,"m":38,"u":1},{"r":3,"c":2,"g":"r","s":2,"m":44,"u":0.6},{"r":3,"c":2,"g":"r","s":2,"m":52,"u":0.4},{"r":3,"c":2,"g":"r","s":2,"m":58,"u":0.34},{"r":3,"c":2,"g":"r","s":2,"m":64,"u":0.38},{"r":3,"c":2,"g":"r","s":2,"m":70,"u":0.55},{"r":3,"c":2,"g":"r","s":2,"m":76,"u":1},

      {"r":3,"c":3,"g":"b","m":0.25,"u":0.065},{"r":3,"c":3,"g":"b","m":0.35,"u":0.022},{"r":3,"c":3,"g":"b","m":0.5,"u":0.007},{"r":3,"c":3,"g":"b","m":0.7,"u":0.0024},{"r":3,"c":3,"g":"b","m":1,"u":0.0008},{"r":3,"c":3,"g":"b","m":1.5,"u":2.2e-4},{"r":3,"c":3,"g":"b","m":2,"u":9e-5},{"r":3,"c":3,"g":"b","m":2.7,"u":3.3e-5},{"r":3,"c":3,"g":"b","m":3.5,"u":1.6e-5},{"r":3,"c":3,"g":"b","m":4.5,"u":1.2e-5},{"r":3,"c":3,"g":"b","m":7,"u":1.12e-5},{"r":3,"c":3,"g":"b","m":12,"u":1.15e-5},{"r":3,"c":3,"g":"b","m":20,"u":1.25e-5},{"r":3,"c":3,"g":"b","m":35,"u":1.5e-5},{"r":3,"c":3,"g":"b","m":50,"u":1.8e-5},{"r":3,"c":3,"g":"b","m":60,"u":2.2e-5},{"r":3,"c":3,"g":"b","m":68,"u":2.8e-5},{"r":3,"c":3,"g":"b","m":75,"u":4.5e-5},{"r":3,"c":3,"g":"b","m":81,"u":1.1e-4},{"r":3,"c":3,"g":"b","m":86,"u":6e-4},{"r":3,"c":3,"g":"b","m":90,"u":6e-3},{"r":3,"c":3,"g":"b","m":93,"u":0.1},{"r":3,"c":3,"g":"b","m":95,"u":1},
      {"r":3,"c":3,"g":"o","m":0.25,"u":0.065},{"r":3,"c":3,"g":"o","m":0.35,"u":0.022},{"r":3,"c":3,"g":"o","m":0.5,"u":0.007},{"r":3,"c":3,"g":"o","m":0.7,"u":0.0024},{"r":3,"c":3,"g":"o","m":1,"u":0.0008},{"r":3,"c":3,"g":"o","m":1.5,"u":2.2e-4},{"r":3,"c":3,"g":"o","m":2,"u":9e-5},{"r":3,"c":3,"g":"o","m":2.06,"u":0.01},{"r":3,"c":3,"g":"o","m":2.2,"u":0.08},{"r":3,"c":3,"g":"o","m":2.45,"u":0.2},{"r":3,"c":3,"g":"o","m":2.8,"u":0.33},{"r":3,"c":3,"g":"o","m":3.1,"u":0.34},{"r":3,"c":3,"g":"o","m":3.5,"u":0.28},{"r":3,"c":3,"g":"o","m":4.2,"u":0.15},{"r":3,"c":3,"g":"o","m":6,"u":0.04},{"r":3,"c":3,"g":"o","m":10,"u":0.0065},{"r":3,"c":3,"g":"o","m":20,"u":7e-4},{"r":3,"c":3,"g":"o","m":35,"u":1.4e-4},{"r":3,"c":3,"g":"o","m":45,"u":7.5e-5},{"r":3,"c":3,"g":"o","m":52,"u":5.7e-5},{"r":3,"c":3,"g":"o","m":60,"u":7.5e-5},{"r":3,"c":3,"g":"o","m":68,"u":1.8e-4},{"r":3,"c":3,"g":"o","m":75,"u":8e-4},{"r":3,"c":3,"g":"o","m":80,"u":0.004},{"r":3,"c":3,"g":"o","m":85,"u":0.04},{"r":3,"c":3,"g":"o","m":89,"u":0.3},{"r":3,"c":3,"g":"o","m":92,"u":1},
      {"r":3,"c":3,"g":"g","m":9.4,"u":1},{"r":3,"c":3,"g":"g","m":12,"u":0.4},{"r":3,"c":3,"g":"g","m":16,"u":0.14},{"r":3,"c":3,"g":"g","m":22,"u":0.05},{"r":3,"c":3,"g":"g","m":30,"u":0.018},{"r":3,"c":3,"g":"g","m":40,"u":0.007},{"r":3,"c":3,"g":"g","m":48,"u":0.0042},{"r":3,"c":3,"g":"g","m":54,"u":0.0034},{"r":3,"c":3,"g":"g","m":61,"u":0.0045},{"r":3,"c":3,"g":"g","m":68,"u":0.012},{"r":3,"c":3,"g":"g","m":75,"u":0.05},{"r":3,"c":3,"g":"g","m":80,"u":0.25},{"r":3,"c":3,"g":"g","m":85,"u":1},
      {"r":3,"c":3,"g":"r","s":1,"m":0.25,"u":0.065},{"r":3,"c":3,"g":"r","s":1,"m":0.35,"u":0.022},{"r":3,"c":3,"g":"r","s":1,"m":0.5,"u":0.007},{"r":3,"c":3,"g":"r","s":1,"m":0.7,"u":0.0024},{"r":3,"c":3,"g":"r","s":1,"m":1,"u":0.0008},{"r":3,"c":3,"g":"r","s":1,"m":1.5,"u":2.2e-4},{"r":3,"c":3,"g":"r","s":1,"m":2,"u":9e-5},{"r":3,"c":3,"g":"r","s":1,"m":2.02,"u":1},
      {"r":3,"c":3,"g":"r","s":2,"m":33,"u":1},{"r":3,"c":3,"g":"r","s":2,"m":40,"u":0.55},{"r":3,"c":3,"g":"r","s":2,"m":47,"u":0.38},{"r":3,"c":3,"g":"r","s":2,"m":52,"u":0.34},{"r":3,"c":3,"g":"r","s":2,"m":58,"u":0.37},{"r":3,"c":3,"g":"r","s":2,"m":64,"u":0.5},{"r":3,"c":3,"g":"r","s":2,"m":70,"u":1},

      {"r":3,"c":4,"g":"b","m":0.25,"u":0.065},{"r":3,"c":4,"g":"b","m":0.35,"u":0.022},{"r":3,"c":4,"g":"b","m":0.5,"u":0.007},{"r":3,"c":4,"g":"b","m":0.7,"u":0.0024},{"r":3,"c":4,"g":"b","m":1,"u":0.0008},{"r":3,"c":4,"g":"b","m":1.5,"u":2.2e-4},{"r":3,"c":4,"g":"b","m":2,"u":9e-5},{"r":3,"c":4,"g":"b","m":2.7,"u":3.3e-5},{"r":3,"c":4,"g":"b","m":3.5,"u":1.6e-5},{"r":3,"c":4,"g":"b","m":4.5,"u":1.2e-5},{"r":3,"c":4,"g":"b","m":7,"u":1.12e-5},{"r":3,"c":4,"g":"b","m":12,"u":1.15e-5},{"r":3,"c":4,"g":"b","m":20,"u":1.25e-5},{"r":3,"c":4,"g":"b","m":35,"u":1.5e-5},{"r":3,"c":4,"g":"b","m":50,"u":1.8e-5},{"r":3,"c":4,"g":"b","m":60,"u":2.2e-5},{"r":3,"c":4,"g":"b","m":68,"u":2.8e-5},{"r":3,"c":4,"g":"b","m":75,"u":4.5e-5},{"r":3,"c":4,"g":"b","m":81,"u":1.1e-4},{"r":3,"c":4,"g":"b","m":86,"u":6e-4},{"r":3,"c":4,"g":"b","m":90,"u":6e-3},{"r":3,"c":4,"g":"b","m":93,"u":0.1},{"r":3,"c":4,"g":"b","m":95,"u":1},
      {"r":3,"c":4,"g":"o","m":8,"u":1.13e-5},{"r":3,"c":4,"g":"o","m":8.6,"u":1.14e-5},{"r":3,"c":4,"g":"o","m":8.75,"u":3e-4},{"r":3,"c":4,"g":"o","m":9.6,"u":8.5e-4},{"r":3,"c":4,"g":"o","m":11,"u":0.00115},{"r":3,"c":4,"g":"o","m":13,"u":0.001},{"r":3,"c":4,"g":"o","m":18,"u":5e-4},{"r":3,"c":4,"g":"o","m":25,"u":2.3e-4},{"r":3,"c":4,"g":"o","m":35,"u":1e-4},{"r":3,"c":4,"g":"o","m":45,"u":6.6e-5},{"r":3,"c":4,"g":"o","m":52,"u":5.7e-5},{"r":3,"c":4,"g":"o","m":60,"u":7.5e-5},{"r":3,"c":4,"g":"o","m":68,"u":1.8e-4},{"r":3,"c":4,"g":"o","m":75,"u":8e-4},{"r":3,"c":4,"g":"o","m":80,"u":0.004},{"r":3,"c":4,"g":"o","m":85,"u":0.04},{"r":3,"c":4,"g":"o","m":89,"u":0.3},{"r":3,"c":4,"g":"o","m":92,"u":1},
      {"r":3,"c":4,"g":"g","m":8,"u":1.13e-5},{"r":3,"c":4,"g":"g","m":8.06,"u":0.018},{"r":3,"c":4,"g":"g","m":10,"u":0.018},{"r":3,"c":4,"g":"g","m":13,"u":0.016},{"r":3,"c":4,"g":"g","m":18,"u":0.012},{"r":3,"c":4,"g":"g","m":25,"u":0.008},{"r":3,"c":4,"g":"g","m":35,"u":0.005},{"r":3,"c":4,"g":"g","m":45,"u":0.0035},{"r":3,"c":4,"g":"g","m":52,"u":0.0032},{"r":3,"c":4,"g":"g","m":60,"u":0.0045},{"r":3,"c":4,"g":"g","m":68,"u":0.012},{"r":3,"c":4,"g":"g","m":75,"u":0.05},{"r":3,"c":4,"g":"g","m":80,"u":0.25},{"r":3,"c":4,"g":"g","m":85,"u":1},
      {"r":3,"c":4,"g":"r","m":0.25,"u":0.065},{"r":3,"c":4,"g":"r","m":0.35,"u":0.022},{"r":3,"c":4,"g":"r","m":0.5,"u":0.007},{"r":3,"c":4,"g":"r","m":0.7,"u":0.0024},{"r":3,"c":4,"g":"r","m":1,"u":0.0008},{"r":3,"c":4,"g":"r","m":1.5,"u":2.2e-4},{"r":3,"c":4,"g":"r","m":2,"u":9e-5},{"r":3,"c":4,"g":"r","m":2.7,"u":3.3e-5},{"r":3,"c":4,"g":"r","m":3.5,"u":1.6e-5},{"r":3,"c":4,"g":"r","m":4.5,"u":1.2e-5},{"r":3,"c":4,"g":"r","m":7,"u":1.12e-5},{"r":3,"c":4,"g":"r","m":8,"u":1.13e-5},{"r":3,"c":4,"g":"r","m":8.05,"u":0.02},{"r":3,"c":4,"g":"r","m":10,"u":0.022},{"r":3,"c":4,"g":"r","m":15,"u":0.024},{"r":3,"c":4,"g":"r","m":25,"u":0.026},{"r":3,"c":4,"g":"r","m":40,"u":0.029},{"r":3,"c":4,"g":"r","m":50,"u":0.033},{"r":3,"c":4,"g":"r","m":60,"u":0.05},{"r":3,"c":4,"g":"r","m":68,"u":0.12},{"r":3,"c":4,"g":"r","m":75,"u":0.4},{"r":3,"c":4,"g":"r","m":80,"u":1}
    ]
  },
  "columns": 9,
  "align": "each",
  "bounds": "flush",
  "spacing": 0,
  "concat": [
    {"width": 46, "height": 34, "mark": {"type": "point", "opacity": 0}, "encoding": {"x": {"field": "k", "type": "nominal", "axis": {"orient": "top", "title": null}}, "y": {"field": "k", "type": "nominal", "axis": {"orient": "left", "title": "sθ", "titleAngle": 0, "titleX": -31, "titleY": 18, "titleAlign": "center", "titleBaseline": "middle", "titleFontSize": 20, "titleFontStyle": "italic"}}}},
    {"width": 98, "height": 34, "mark": {"type": "point", "opacity": 0}, "encoding": {"x": {"field": "k", "type": "nominal", "axis": {"orient": "top", "title": null}}}},
    {"width": 35, "height": 34, "mark": {"type": "point", "opacity": 0}, "encoding": {"x": {"field": "k", "type": "nominal", "axis": {"orient": "top", "title": null}}}},
    {"width": 98, "height": 34, "mark": {"type": "point", "opacity": 0}, "encoding": {"x": {"field": "k", "type": "nominal", "axis": {"orient": "top", "title": null}}}},
    {"width": 35, "height": 34, "mark": {"type": "point", "opacity": 0}, "encoding": {"x": {"field": "k", "type": "nominal", "axis": {"orient": "top", "title": null}}}},
    {"width": 98, "height": 34, "mark": {"type": "point", "opacity": 0}, "encoding": {"x": {"field": "k", "type": "nominal", "axis": {"orient": "top", "title": null}}}},
    {"width": 35, "height": 34, "mark": {"type": "point", "opacity": 0}, "encoding": {"x": {"field": "k", "type": "nominal", "axis": {"orient": "top", "title": null}}}},
    {"width": 98, "height": 34, "mark": {"type": "point", "opacity": 0}, "encoding": {"x": {"field": "k", "type": "nominal", "axis": {"orient": "top", "title": null}}}},
    {"width": 31, "height": 34, "mark": {"type": "point", "opacity": 0}, "encoding": {"x": {"field": "k", "type": "nominal", "axis": {"orient": "top", "title": null}}, "y": {"field": "k", "type": "nominal", "axis": {"orient": "right", "title": null}}}},

    {"width": 46, "height": 98, "mark": {"type": "point", "opacity": 0}, "encoding": {"y": {"field": "k", "type": "nominal", "axis": {"orient": "left", "title": null, "labels": true, "ticks": true, "tickSize": -6, "labelPadding": 12, "labelFontSize": 14, "labelExpr": "'1 × 10⁻²'"}}}},
    {"width": 98, "height": 98, "view": {"stroke": "#9a9a9a"}, "data": {"name": "curves"}, "transform": [{"filter": "datum.r == 1 && datum.c == 1"}],
      "encoding": {
        "x": {"field": "m", "type": "quantitative", "scale": {"type": "log", "domain": [0.2, 100], "nice": false}, "axis": {"title": null, "values": [0.2,0.3,0.4,0.5,0.6,0.7,0.8,0.9,1,2,3,4,5,6,7,8,9,10,20,30,40,50,60,70,80,90,100], "labelExpr": "datum.value == 1 ? '1' : datum.value == 10 ? '10' : datum.value == 100 ? '100' : ''", "tickSize": -2, "labelPadding": 6}},
        "y": {"field": "u", "type": "quantitative", "scale": {"type": "log", "domain": [0.000001, 1], "nice": false}, "axis": {"title": "|U|²", "titleAngle": -90, "titleX": -31, "titleY": -2, "titleAlign": "right", "titleBaseline": "middle", "titleFontSize": 13, "titleFontStyle": "italic", "values": [0.000001, 0.0001, 0.01, 1], "labelExpr": "datum.value > 0.5 ? '1' : datum.value > 0.005 ? '10⁻²' : datum.value > 0.00005 ? '10⁻⁴' : '10⁻⁶'", "ticks": false, "labelPadding": 3}},
        "color": {"field": "g", "type": "nominal", "scale": {"domain": ["b", "o", "g", "r"], "range": ["#3a9cf6", "#f99a2c", "#0fc25b", "#f23131"]}, "legend": {"values": ["o", "g", "r"], "title": null, "orient": "none", "legendX": 128, "legendY": 9, "labelExpr": "datum.value == 'o' ? 'gₛ = 10⁻²' : datum.value == 'g' ? 'gₛ = 10⁻¹' : 'gₛ = 1'"}},
        "detail": {"field": "s", "type": "nominal"}
      },
      "layer": [
        {"transform": [{"filter": "datum.g == 'b'"}], "mark": {"type": "line", "clip": true, "interpolate": "monotone"}},
        {"transform": [{"filter": "datum.g == 'o'"}], "mark": {"type": "line", "clip": true, "interpolate": "monotone"}},
        {"transform": [{"filter": "datum.g == 'g'"}], "mark": {"type": "line", "clip": true, "interpolate": "monotone"}},
        {"transform": [{"filter": "datum.g == 'r'"}], "mark": {"type": "line", "clip": true, "interpolate": "monotone"}}
      ]
    },
    {"width": 1, "height": 1, "mark": {"type": "point", "opacity": 0}},
    {"width": 98, "height": 98, "view": {"stroke": "#9a9a9a"}, "data": {"name": "curves"}, "transform": [{"filter": "datum.r == 1 && datum.c == 2"}],
      "encoding": {
        "x": {"field": "m", "type": "quantitative", "scale": {"type": "log", "domain": [0.2, 100], "nice": false}, "axis": {"title": null, "values": [0.2,0.3,0.4,0.5,0.6,0.7,0.8,0.9,1,2,3,4,5,6,7,8,9,10,20,30,40,50,60,70,80,90,100], "labelExpr": "datum.value == 1 ? '1' : datum.value == 10 ? '10' : datum.value == 100 ? '100' : ''", "tickSize": -2, "labelPadding": 6}},
        "y": {"field": "u", "type": "quantitative", "scale": {"type": "log", "domain": [0.000001, 1], "nice": false}, "axis": {"title": null, "values": [0.000001, 0.0001, 0.01, 1], "labelExpr": "datum.value > 0.5 ? '1' : datum.value > 0.005 ? '10⁻²' : datum.value > 0.00005 ? '10⁻⁴' : '10⁻⁶'", "ticks": false, "labelPadding": 3}},
        "color": {"field": "g", "type": "nominal", "scale": {"domain": ["b", "o", "g", "r"], "range": ["#3a9cf6", "#f99a2c", "#0fc25b", "#f23131"]}, "legend": {"values": ["o", "g", "r"], "title": null, "orient": "none", "legendX": 128, "legendY": 9, "labelExpr": "datum.value == 'o' ? 'gₛ = 10⁻²' : datum.value == 'g' ? 'gₛ = 10⁻¹' : 'gₛ = 1'"}},
        "detail": {"field": "s", "type": "nominal"}
      },
      "layer": [
        {"transform": [{"filter": "datum.g == 'b'"}], "mark": {"type": "line", "clip": true, "interpolate": "monotone"}},
        {"transform": [{"filter": "datum.g == 'o'"}], "mark": {"type": "line", "clip": true, "interpolate": "monotone"}},
        {"transform": [{"filter": "datum.g == 'g'"}], "mark": {"type": "line", "clip": true, "interpolate": "monotone"}},
        {"transform": [{"filter": "datum.g == 'r'"}], "mark": {"type": "line", "clip": true, "interpolate": "monotone"}}
      ]
    },
    {"width": 1, "height": 1, "mark": {"type": "point", "opacity": 0}},
    {"width": 98, "height": 98, "view": {"stroke": "#9a9a9a"}, "data": {"name": "curves"}, "transform": [{"filter": "datum.r == 1 && datum.c == 3"}],
      "encoding": {
        "x": {"field": "m", "type": "quantitative", "scale": {"type": "log", "domain": [0.2, 100], "nice": false}, "axis": {"title": null, "values": [0.2,0.3,0.4,0.5,0.6,0.7,0.8,0.9,1,2,3,4,5,6,7,8,9,10,20,30,40,50,60,70,80,90,100], "labelExpr": "datum.value == 1 ? '1' : datum.value == 10 ? '10' : datum.value == 100 ? '100' : ''", "tickSize": -2, "labelPadding": 6}},
        "y": {"field": "u", "type": "quantitative", "scale": {"type": "log", "domain": [0.000001, 1], "nice": false}, "axis": {"title": null, "values": [0.000001, 0.0001, 0.01, 1], "labelExpr": "datum.value > 0.5 ? '1' : datum.value > 0.005 ? '10⁻²' : datum.value > 0.00005 ? '10⁻⁴' : '10⁻⁶'", "ticks": false, "labelPadding": 3}},
        "color": {"field": "g", "type": "nominal", "scale": {"domain": ["b", "o", "g", "r"], "range": ["#3a9cf6", "#f99a2c", "#0fc25b", "#f23131"]}, "legend": {"values": ["o", "g", "r"], "title": null, "orient": "none", "legendX": 128, "legendY": 9, "labelExpr": "datum.value == 'o' ? 'gₛ = 10⁻²' : datum.value == 'g' ? 'gₛ = 10⁻¹' : 'gₛ = 1'"}},
        "detail": {"field": "s", "type": "nominal"}
      },
      "layer": [
        {"transform": [{"filter": "datum.g == 'b'"}], "mark": {"type": "line", "clip": true, "interpolate": "monotone"}},
        {"transform": [{"filter": "datum.g == 'o'"}], "mark": {"type": "line", "clip": true, "interpolate": "monotone"}},
        {"transform": [{"filter": "datum.g == 'g'"}], "mark": {"type": "line", "clip": true, "interpolate": "monotone"}},
        {"transform": [{"filter": "datum.g == 'r'"}], "mark": {"type": "line", "clip": true, "interpolate": "monotone"}}
      ]
    },
    {"width": 1, "height": 1, "mark": {"type": "point", "opacity": 0}},
    {"width": 98, "height": 98, "view": {"stroke": "#9a9a9a"}, "data": {"name": "curves"}, "transform": [{"filter": "datum.r == 1 && datum.c == 4"}],
      "encoding": {
        "x": {"field": "m", "type": "quantitative", "scale": {"type": "log", "domain": [0.2, 100], "nice": false}, "axis": {"title": null, "values": [0.2,0.3,0.4,0.5,0.6,0.7,0.8,0.9,1,2,3,4,5,6,7,8,9,10,20,30,40,50,60,70,80,90,100], "labelExpr": "datum.value == 1 ? '1' : datum.value == 10 ? '10' : datum.value == 100 ? '100' : ''", "tickSize": -2, "labelPadding": 6}},
        "y": {"field": "u", "type": "quantitative", "scale": {"type": "log", "domain": [0.000001, 1], "nice": false}, "axis": {"title": null, "values": [0.000001, 0.0001, 0.01, 1], "labelExpr": "datum.value > 0.5 ? '1' : datum.value > 0.005 ? '10⁻²' : datum.value > 0.00005 ? '10⁻⁴' : '10⁻⁶'", "ticks": false, "labelPadding": 3}},
        "color": {"field": "g", "type": "nominal", "scale": {"domain": ["b", "o", "g", "r"], "range": ["#3a9cf6", "#f99a2c", "#0fc25b", "#f23131"]}, "legend": {"values": ["o", "g", "r"], "title": null, "orient": "none", "legendX": 128, "legendY": 9, "labelExpr": "datum.value == 'o' ? 'gₛ = 10⁻²' : datum.value == 'g' ? 'gₛ = 10⁻¹' : 'gₛ = 1'"}},
        "detail": {"field": "s", "type": "nominal"}
      },
      "layer": [
        {"transform": [{"filter": "datum.g == 'b'"}], "mark": {"type": "line", "clip": true, "interpolate": "monotone"}},
        {"transform": [{"filter": "datum.g == 'o'"}], "mark": {"type": "line", "clip": true, "interpolate": "monotone"}},
        {"transform": [{"filter": "datum.g == 'g'"}], "mark": {"type": "line", "clip": true, "interpolate": "monotone"}},
        {"transform": [{"filter": "datum.g == 'r'"}], "mark": {"type": "line", "clip": true, "interpolate": "monotone"}}
      ]
    },
    {"width": 31, "height": 98, "mark": {"type": "point", "opacity": 0}, "encoding": {"y": {"field": "k", "type": "nominal", "axis": {"orient": "right", "title": null}}}},

    {"width": 46, "height": 35, "mark": {"type": "point", "opacity": 0}, "encoding": {"y": {"field": "k", "type": "nominal", "axis": {"orient": "left", "title": null}}}},
    {"width": 1, "height": 1, "mark": {"type": "point", "opacity": 0}},
    {"width": 1, "height": 1, "mark": {"type": "point", "opacity": 0}},
    {"width": 1, "height": 1, "mark": {"type": "point", "opacity": 0}},
    {"width": 1, "height": 1, "mark": {"type": "point", "opacity": 0}},
    {"width": 1, "height": 1, "mark": {"type": "point", "opacity": 0}},
    {"width": 1, "height": 1, "mark": {"type": "point", "opacity": 0}},
    {"width": 1, "height": 1, "mark": {"type": "point", "opacity": 0}},
    {"width": 31, "height": 35, "mark": {"type": "point", "opacity": 0}, "encoding": {"y": {"field": "k", "type": "nominal", "axis": {"orient": "right", "title": null}}}},

    {"width": 46, "height": 98, "mark": {"type": "point", "opacity": 0}, "encoding": {"y": {"field": "k", "type": "nominal", "axis": {"orient": "left", "title": null, "labels": true, "ticks": true, "tickSize": -6, "labelPadding": 12, "labelFontSize": 14, "labelExpr": "'5 × 10⁻⁵'"}}}},
    {"width": 98, "height": 98, "view": {"stroke": "#9a9a9a"}, "data": {"name": "curves"}, "transform": [{"filter": "datum.r == 2 && datum.c == 1"}],
      "encoding": {
        "x": {"field": "m", "type": "quantitative", "scale": {"type": "log", "domain": [0.2, 100], "nice": false}, "axis": {"title": null, "values": [0.2,0.3,0.4,0.5,0.6,0.7,0.8,0.9,1,2,3,4,5,6,7,8,9,10,20,30,40,50,60,70,80,90,100], "labelExpr": "datum.value == 1 ? '1' : datum.value == 10 ? '10' : datum.value == 100 ? '100' : ''", "tickSize": -2, "labelPadding": 6}},
        "y": {"field": "u", "type": "quantitative", "scale": {"type": "log", "domain": [0.000001, 1], "nice": false}, "axis": {"title": "|U|²", "titleAngle": -90, "titleX": -31, "titleY": -2, "titleAlign": "right", "titleBaseline": "middle", "titleFontSize": 13, "titleFontStyle": "italic", "values": [0.000001, 0.0001, 0.01, 1], "labelExpr": "datum.value > 0.5 ? '1' : datum.value > 0.005 ? '10⁻²' : datum.value > 0.00005 ? '10⁻⁴' : '10⁻⁶'", "ticks": false, "labelPadding": 3}},
        "color": {"field": "g", "type": "nominal", "scale": {"domain": ["b", "o", "g", "r"], "range": ["#3a9cf6", "#f99a2c", "#0fc25b", "#f23131"]}, "legend": {"values": ["o", "g", "r"], "title": null, "orient": "none", "legendX": 128, "legendY": 9, "labelExpr": "datum.value == 'o' ? 'gₛ = 10⁻²' : datum.value == 'g' ? 'gₛ = 10⁻¹' : 'gₛ = 1'"}},
        "detail": {"field": "s", "type": "nominal"}
      },
      "layer": [
        {"transform": [{"filter": "datum.g == 'b'"}], "mark": {"type": "line", "clip": true, "interpolate": "monotone"}},
        {"transform": [{"filter": "datum.g == 'o'"}], "mark": {"type": "line", "clip": true, "interpolate": "monotone"}},
        {"transform": [{"filter": "datum.g == 'g'"}], "mark": {"type": "line", "clip": true, "interpolate": "monotone"}},
        {"transform": [{"filter": "datum.g == 'r'"}], "mark": {"type": "line", "clip": true, "interpolate": "monotone"}}
      ]
    },
    {"width": 1, "height": 1, "mark": {"type": "point", "opacity": 0}},
    {"width": 98, "height": 98, "view": {"stroke": "#9a9a9a"}, "data": {"name": "curves"}, "transform": [{"filter": "datum.r == 2 && datum.c == 2"}],
      "encoding": {
        "x": {"field": "m", "type": "quantitative", "scale": {"type": "log", "domain": [0.2, 100], "nice": false}, "axis": {"title": null, "values": [0.2,0.3,0.4,0.5,0.6,0.7,0.8,0.9,1,2,3,4,5,6,7,8,9,10,20,30,40,50,60,70,80,90,100], "labelExpr": "datum.value == 1 ? '1' : datum.value == 10 ? '10' : datum.value == 100 ? '100' : ''", "tickSize": -2, "labelPadding": 6}},
        "y": {"field": "u", "type": "quantitative", "scale": {"type": "log", "domain": [0.000001, 1], "nice": false}, "axis": {"title": null, "values": [0.000001, 0.0001, 0.01, 1], "labelExpr": "datum.value > 0.5 ? '1' : datum.value > 0.005 ? '10⁻²' : datum.value > 0.00005 ? '10⁻⁴' : '10⁻⁶'", "ticks": false, "labelPadding": 3}},
        "color": {"field": "g", "type": "nominal", "scale": {"domain": ["b", "o", "g", "r"], "range": ["#3a9cf6", "#f99a2c", "#0fc25b", "#f23131"]}, "legend": {"values": ["o", "g", "r"], "title": null, "orient": "none", "legendX": 128, "legendY": 9, "labelExpr": "datum.value == 'o' ? 'gₛ = 10⁻²' : datum.value == 'g' ? 'gₛ = 10⁻¹' : 'gₛ = 1'"}},
        "detail": {"field": "s", "type": "nominal"}
      },
      "layer": [
        {"transform": [{"filter": "datum.g == 'b'"}], "mark": {"type": "line", "clip": true, "interpolate": "monotone"}},
        {"transform": [{"filter": "datum.g == 'o'"}], "mark": {"type": "line", "clip": true, "interpolate": "monotone"}},
        {"transform": [{"filter": "datum.g == 'g'"}], "mark": {"type": "line", "clip": true, "interpolate": "monotone"}},
        {"transform": [{"filter": "datum.g == 'r'"}], "mark": {"type": "line", "clip": true, "interpolate": "monotone"}}
      ]
    },
    {"width": 1, "height": 1, "mark": {"type": "point", "opacity": 0}},
    {"width": 98, "height": 98, "view": {"stroke": "#9a9a9a"}, "data": {"name": "curves"}, "transform": [{"filter": "datum.r == 2 && datum.c == 3"}],
      "encoding": {
        "x": {"field": "m", "type": "quantitative", "scale": {"type": "log", "domain": [0.2, 100], "nice": false}, "axis": {"title": null, "values": [0.2,0.3,0.4,0.5,0.6,0.7,0.8,0.9,1,2,3,4,5,6,7,8,9,10,20,30,40,50,60,70,80,90,100], "labelExpr": "datum.value == 1 ? '1' : datum.value == 10 ? '10' : datum.value == 100 ? '100' : ''", "tickSize": -2, "labelPadding": 6}},
        "y": {"field": "u", "type": "quantitative", "scale": {"type": "log", "domain": [0.000001, 1], "nice": false}, "axis": {"title": null, "values": [0.000001, 0.0001, 0.01, 1], "labelExpr": "datum.value > 0.5 ? '1' : datum.value > 0.005 ? '10⁻²' : datum.value > 0.00005 ? '10⁻⁴' : '10⁻⁶'", "ticks": false, "labelPadding": 3}},
        "color": {"field": "g", "type": "nominal", "scale": {"domain": ["b", "o", "g", "r"], "range": ["#3a9cf6", "#f99a2c", "#0fc25b", "#f23131"]}, "legend": {"values": ["o", "g", "r"], "title": null, "orient": "none", "legendX": 128, "legendY": 9, "labelExpr": "datum.value == 'o' ? 'gₛ = 10⁻²' : datum.value == 'g' ? 'gₛ = 10⁻¹' : 'gₛ = 1'"}},
        "detail": {"field": "s", "type": "nominal"}
      },
      "layer": [
        {"transform": [{"filter": "datum.g == 'b'"}], "mark": {"type": "line", "clip": true, "interpolate": "monotone"}},
        {"transform": [{"filter": "datum.g == 'o'"}], "mark": {"type": "line", "clip": true, "interpolate": "monotone"}},
        {"transform": [{"filter": "datum.g == 'g'"}], "mark": {"type": "line", "clip": true, "interpolate": "monotone"}},
        {"transform": [{"filter": "datum.g == 'r'"}], "mark": {"type": "line", "clip": true, "interpolate": "monotone"}}
      ]
    },
    {"width": 1, "height": 1, "mark": {"type": "point", "opacity": 0}},
    {"width": 98, "height": 98, "view": {"stroke": "#9a9a9a"}, "data": {"name": "curves"}, "transform": [{"filter": "datum.r == 2 && datum.c == 4"}],
      "encoding": {
        "x": {"field": "m", "type": "quantitative", "scale": {"type": "log", "domain": [0.2, 100], "nice": false}, "axis": {"title": null, "values": [0.2,0.3,0.4,0.5,0.6,0.7,0.8,0.9,1,2,3,4,5,6,7,8,9,10,20,30,40,50,60,70,80,90,100], "labelExpr": "datum.value == 1 ? '1' : datum.value == 10 ? '10' : datum.value == 100 ? '100' : ''", "tickSize": -2, "labelPadding": 6}},
        "y": {"field": "u", "type": "quantitative", "scale": {"type": "log", "domain": [0.000001, 1], "nice": false}, "axis": {"title": null, "values": [0.000001, 0.0001, 0.01, 1], "labelExpr": "datum.value > 0.5 ? '1' : datum.value > 0.005 ? '10⁻²' : datum.value > 0.00005 ? '10⁻⁴' : '10⁻⁶'", "ticks": false, "labelPadding": 3}},
        "color": {"field": "g", "type": "nominal", "scale": {"domain": ["b", "o", "g", "r"], "range": ["#3a9cf6", "#f99a2c", "#0fc25b", "#f23131"]}, "legend": {"values": ["o", "g", "r"], "title": null, "orient": "none", "legendX": 128, "legendY": 9, "labelExpr": "datum.value == 'o' ? 'gₛ = 10⁻²' : datum.value == 'g' ? 'gₛ = 10⁻¹' : 'gₛ = 1'"}},
        "detail": {"field": "s", "type": "nominal"}
      },
      "layer": [
        {"transform": [{"filter": "datum.g == 'b'"}], "mark": {"type": "line", "clip": true, "interpolate": "monotone"}},
        {"transform": [{"filter": "datum.g == 'o'"}], "mark": {"type": "line", "clip": true, "interpolate": "monotone"}},
        {"transform": [{"filter": "datum.g == 'g'"}], "mark": {"type": "line", "clip": true, "interpolate": "monotone"}},
        {"transform": [{"filter": "datum.g == 'r'"}], "mark": {"type": "line", "clip": true, "interpolate": "monotone"}}
      ]
    },
    {"width": 31, "height": 98, "mark": {"type": "point", "opacity": 0}, "encoding": {"y": {"field": "k", "type": "nominal", "axis": {"orient": "right", "title": null}}}},

    {"width": 46, "height": 35, "mark": {"type": "point", "opacity": 0}, "encoding": {"y": {"field": "k", "type": "nominal", "axis": {"orient": "left", "title": null}}}},
    {"width": 1, "height": 1, "mark": {"type": "point", "opacity": 0}},
    {"width": 1, "height": 1, "mark": {"type": "point", "opacity": 0}},
    {"width": 1, "height": 1, "mark": {"type": "point", "opacity": 0}},
    {"width": 1, "height": 1, "mark": {"type": "point", "opacity": 0}},
    {"width": 1, "height": 1, "mark": {"type": "point", "opacity": 0}},
    {"width": 1, "height": 1, "mark": {"type": "point", "opacity": 0}},
    {"width": 1, "height": 1, "mark": {"type": "point", "opacity": 0}},
    {"width": 31, "height": 35, "mark": {"type": "point", "opacity": 0}, "encoding": {"y": {"field": "k", "type": "nominal", "axis": {"orient": "right", "title": null}}}},

    {"width": 46, "height": 98, "mark": {"type": "point", "opacity": 0}, "encoding": {"y": {"field": "k", "type": "nominal", "axis": {"orient": "left", "title": null, "labels": true, "ticks": true, "tickSize": -6, "labelPadding": 12, "labelFontSize": 14, "labelExpr": "'1 × 10⁻⁷'"}}}},
    {"width": 98, "height": 98, "view": {"stroke": "#9a9a9a"}, "data": {"name": "curves"}, "transform": [{"filter": "datum.r == 3 && datum.c == 1"}],
      "encoding": {
        "x": {"field": "m", "type": "quantitative", "scale": {"type": "log", "domain": [0.2, 100], "nice": false}, "axis": {"title": "mₙ(GeV)", "titleX": 78, "titleY": 26, "titleAlign": "center", "titleBaseline": "middle", "titleFontSize": 13, "values": [0.2,0.3,0.4,0.5,0.6,0.7,0.8,0.9,1,2,3,4,5,6,7,8,9,10,20,30,40,50,60,70,80,90,100], "labelExpr": "datum.value == 1 ? '1' : datum.value == 10 ? '10' : datum.value == 100 ? '100' : ''", "tickSize": -2, "labelPadding": 6}},
        "y": {"field": "u", "type": "quantitative", "scale": {"type": "log", "domain": [0.000001, 1], "nice": false}, "axis": {"title": "|U|²", "titleAngle": -90, "titleX": -31, "titleY": -2, "titleAlign": "right", "titleBaseline": "middle", "titleFontSize": 13, "titleFontStyle": "italic", "values": [0.000001, 0.0001, 0.01, 1], "labelExpr": "datum.value > 0.5 ? '1' : datum.value > 0.005 ? '10⁻²' : datum.value > 0.00005 ? '10⁻⁴' : '10⁻⁶'", "ticks": false, "labelPadding": 3}},
        "color": {"field": "g", "type": "nominal", "scale": {"domain": ["b", "o", "g", "r"], "range": ["#3a9cf6", "#f99a2c", "#0fc25b", "#f23131"]}, "legend": {"values": ["o", "g", "r"], "title": null, "orient": "none", "legendX": 128, "legendY": 9, "labelExpr": "datum.value == 'o' ? 'gₛ = 10⁻²' : datum.value == 'g' ? 'gₛ = 10⁻¹' : 'gₛ = 1'"}},
        "detail": {"field": "s", "type": "nominal"}
      },
      "layer": [
        {"transform": [{"filter": "datum.g == 'b'"}], "mark": {"type": "line", "clip": true, "interpolate": "monotone"}},
        {"transform": [{"filter": "datum.g == 'o'"}], "mark": {"type": "line", "clip": true, "interpolate": "monotone"}},
        {"transform": [{"filter": "datum.g == 'g'"}], "mark": {"type": "line", "clip": true, "interpolate": "monotone"}},
        {"transform": [{"filter": "datum.g == 'r'"}], "mark": {"type": "line", "clip": true, "interpolate": "monotone"}}
      ]
    },
    {"width": 1, "height": 1, "mark": {"type": "point", "opacity": 0}},
    {"width": 98, "height": 98, "view": {"stroke": "#9a9a9a"}, "data": {"name": "curves"}, "transform": [{"filter": "datum.r == 3 && datum.c == 2"}],
      "encoding": {
        "x": {"field": "m", "type": "quantitative", "scale": {"type": "log", "domain": [0.2, 100], "nice": false}, "axis": {"title": "mₙ(GeV)", "titleX": 78, "titleY": 26, "titleAlign": "center", "titleBaseline": "middle", "titleFontSize": 13, "values": [0.2,0.3,0.4,0.5,0.6,0.7,0.8,0.9,1,2,3,4,5,6,7,8,9,10,20,30,40,50,60,70,80,90,100], "labelExpr": "datum.value == 1 ? '1' : datum.value == 10 ? '10' : datum.value == 100 ? '100' : ''", "tickSize": -2, "labelPadding": 6}},
        "y": {"field": "u", "type": "quantitative", "scale": {"type": "log", "domain": [0.000001, 1], "nice": false}, "axis": {"title": null, "values": [0.000001, 0.0001, 0.01, 1], "labelExpr": "datum.value > 0.5 ? '1' : datum.value > 0.005 ? '10⁻²' : datum.value > 0.00005 ? '10⁻⁴' : '10⁻⁶'", "ticks": false, "labelPadding": 3}},
        "color": {"field": "g", "type": "nominal", "scale": {"domain": ["b", "o", "g", "r"], "range": ["#3a9cf6", "#f99a2c", "#0fc25b", "#f23131"]}, "legend": {"values": ["o", "g", "r"], "title": null, "orient": "none", "legendX": 128, "legendY": 9, "labelExpr": "datum.value == 'o' ? 'gₛ = 10⁻²' : datum.value == 'g' ? 'gₛ = 10⁻¹' : 'gₛ = 1'"}},
        "detail": {"field": "s", "type": "nominal"}
      },
      "layer": [
        {"transform": [{"filter": "datum.g == 'b'"}], "mark": {"type": "line", "clip": true, "interpolate": "monotone"}},
        {"transform": [{"filter": "datum.g == 'o'"}], "mark": {"type": "line", "clip": true, "interpolate": "monotone"}},
        {"transform": [{"filter": "datum.g == 'g'"}], "mark": {"type": "line", "clip": true, "interpolate": "monotone"}},
        {"transform": [{"filter": "datum.g == 'r'"}], "mark": {"type": "line", "clip": true, "interpolate": "monotone"}}
      ]
    },
    {"width": 1, "height": 1, "mark": {"type": "point", "opacity": 0}},
    {"width": 98, "height": 98, "view": {"stroke": "#9a9a9a"}, "data": {"name": "curves"}, "transform": [{"filter": "datum.r == 3 && datum.c == 3"}],
      "encoding": {
        "x": {"field": "m", "type": "quantitative", "scale": {"type": "log", "domain": [0.2, 100], "nice": false}, "axis": {"title": "mₙ(GeV)", "titleX": 78, "titleY": 26, "titleAlign": "center", "titleBaseline": "middle", "titleFontSize": 13, "values": [0.2,0.3,0.4,0.5,0.6,0.7,0.8,0.9,1,2,3,4,5,6,7,8,9,10,20,30,40,50,60,70,80,90,100], "labelExpr": "datum.value == 1 ? '1' : datum.value == 10 ? '10' : datum.value == 100 ? '100' : ''", "tickSize": -2, "labelPadding": 6}},
        "y": {"field": "u", "type": "quantitative", "scale": {"type": "log", "domain": [0.000001, 1], "nice": false}, "axis": {"title": null, "values": [0.000001, 0.0001, 0.01, 1], "labelExpr": "datum.value > 0.5 ? '1' : datum.value > 0.005 ? '10⁻²' : datum.value > 0.00005 ? '10⁻⁴' : '10⁻⁶'", "ticks": false, "labelPadding": 3}},
        "color": {"field": "g", "type": "nominal", "scale": {"domain": ["b", "o", "g", "r"], "range": ["#3a9cf6", "#f99a2c", "#0fc25b", "#f23131"]}, "legend": {"values": ["o", "g", "r"], "title": null, "orient": "none", "legendX": 128, "legendY": 9, "labelExpr": "datum.value == 'o' ? 'gₛ = 10⁻²' : datum.value == 'g' ? 'gₛ = 10⁻¹' : 'gₛ = 1'"}},
        "detail": {"field": "s", "type": "nominal"}
      },
      "layer": [
        {"transform": [{"filter": "datum.g == 'b'"}], "mark": {"type": "line", "clip": true, "interpolate": "monotone"}},
        {"transform": [{"filter": "datum.g == 'o'"}], "mark": {"type": "line", "clip": true, "interpolate": "monotone"}},
        {"transform": [{"filter": "datum.g == 'g'"}], "mark": {"type": "line", "clip": true, "interpolate": "monotone"}},
        {"transform": [{"filter": "datum.g == 'r'"}], "mark": {"type": "line", "clip": true, "interpolate": "monotone"}}
      ]
    },
    {"width": 1, "height": 1, "mark": {"type": "point", "opacity": 0}},
    {"width": 98, "height": 98, "view": {"stroke": "#9a9a9a"}, "data": {"name": "curves"}, "transform": [{"filter": "datum.r == 3 && datum.c == 4"}],
      "encoding": {
        "x": {"field": "m", "type": "quantitative", "scale": {"type": "log", "domain": [0.2, 100], "nice": false}, "axis": {"title": "mₙ(GeV)", "titleX": 78, "titleY": 26, "titleAlign": "center", "titleBaseline": "middle", "titleFontSize": 13, "values": [0.2,0.3,0.4,0.5,0.6,0.7,0.8,0.9,1,2,3,4,5,6,7,8,9,10,20,30,40,50,60,70,80,90,100], "labelExpr": "datum.value == 1 ? '1' : datum.value == 10 ? '10' : datum.value == 100 ? '100' : ''", "tickSize": -2, "labelPadding": 6}},
        "y": {"field": "u", "type": "quantitative", "scale": {"type": "log", "domain": [0.000001, 1], "nice": false}, "axis": {"title": null, "values": [0.000001, 0.0001, 0.01, 1], "labelExpr": "datum.value > 0.5 ? '1' : datum.value > 0.005 ? '10⁻²' : datum.value > 0.00005 ? '10⁻⁴' : '10⁻⁶'", "ticks": false, "labelPadding": 3}},
        "color": {"field": "g", "type": "nominal", "scale": {"domain": ["b", "o", "g", "r"], "range": ["#3a9cf6", "#f99a2c", "#0fc25b", "#f23131"]}, "legend": {"values": ["o", "g", "r"], "title": null, "orient": "none", "legendX": 128, "legendY": 9, "labelExpr": "datum.value == 'o' ? 'gₛ = 10⁻²' : datum.value == 'g' ? 'gₛ = 10⁻¹' : 'gₛ = 1'"}},
        "detail": {"field": "s", "type": "nominal"}
      },
      "layer": [
        {"transform": [{"filter": "datum.g == 'b'"}], "mark": {"type": "line", "clip": true, "interpolate": "monotone"}},
        {"transform": [{"filter": "datum.g == 'o'"}], "mark": {"type": "line", "clip": true, "interpolate": "monotone"}},
        {"transform": [{"filter": "datum.g == 'g'"}], "mark": {"type": "line", "clip": true, "interpolate": "monotone"}},
        {"transform": [{"filter": "datum.g == 'r'"}], "mark": {"type": "line", "clip": true, "interpolate": "monotone"}}
      ]
    },
    {"width": 31, "height": 98, "mark": {"type": "point", "opacity": 0}, "encoding": {"y": {"field": "k", "type": "nominal", "axis": {"orient": "right", "title": null}}}},

    {"width": 46, "height": 44, "mark": {"type": "point", "opacity": 0}, "encoding": {"x": {"field": "k", "type": "nominal", "axis": {"orient": "bottom", "title": null}}, "y": {"field": "k", "type": "nominal", "axis": {"orient": "left", "title": null}}}},
    {"width": 98, "height": 44, "mark": {"type": "point", "opacity": 0}, "encoding": {"x": {"field": "k", "type": "nominal", "axis": {"orient": "bottom", "title": null, "labels": true, "ticks": true, "tickSize": -6, "labelPadding": 14, "labelFontSize": 13, "labelExpr": "'0.05'"}}}},
    {"width": 35, "height": 44, "mark": {"type": "point", "opacity": 0}, "encoding": {"x": {"field": "k", "type": "nominal", "axis": {"orient": "bottom", "title": null}}}},
    {"width": 98, "height": 44, "mark": {"type": "point", "opacity": 0}, "encoding": {"x": {"field": "k", "type": "nominal", "axis": {"orient": "bottom", "title": null, "labels": true, "ticks": true, "tickSize": -6, "labelPadding": 14, "labelFontSize": 13, "labelExpr": "'0.35'"}}}},
    {"width": 35, "height": 44, "mark": {"type": "point", "opacity": 0}, "encoding": {"x": {"field": "k", "type": "nominal", "axis": {"orient": "bottom", "title": null}}}},
    {"width": 98, "height": 44, "mark": {"type": "point", "opacity": 0}, "encoding": {"x": {"field": "k", "type": "nominal", "axis": {"orient": "bottom", "title": null, "labels": true, "ticks": true, "tickSize": -6, "labelPadding": 14, "labelFontSize": 13, "labelExpr": "'2.0'"}}}},
    {"width": 35, "height": 44, "mark": {"type": "point", "opacity": 0}, "encoding": {"x": {"field": "k", "type": "nominal", "axis": {"orient": "bottom", "title": null}}}},
    {"width": 98, "height": 44, "mark": {"type": "point", "opacity": 0}, "encoding": {"x": {"field": "k", "type": "nominal", "axis": {"orient": "bottom", "title": null, "labels": true, "ticks": true, "tickSize": -6, "labelPadding": 14, "labelFontSize": 13, "labelExpr": "'8.0'"}}}},
    {"width": 31, "height": 44, "mark": {"type": "point", "opacity": 0}, "encoding": {"x": {"field": "k", "type": "nominal", "axis": {"orient": "bottom", "title": "mₛ(GeV)", "titleX": -4, "titleY": 14, "titleAlign": "center", "titleBaseline": "middle", "titleFontSize": 19}}, "y": {"field": "k", "type": "nominal", "axis": {"orient": "right", "title": null}}}}
  ]
}
